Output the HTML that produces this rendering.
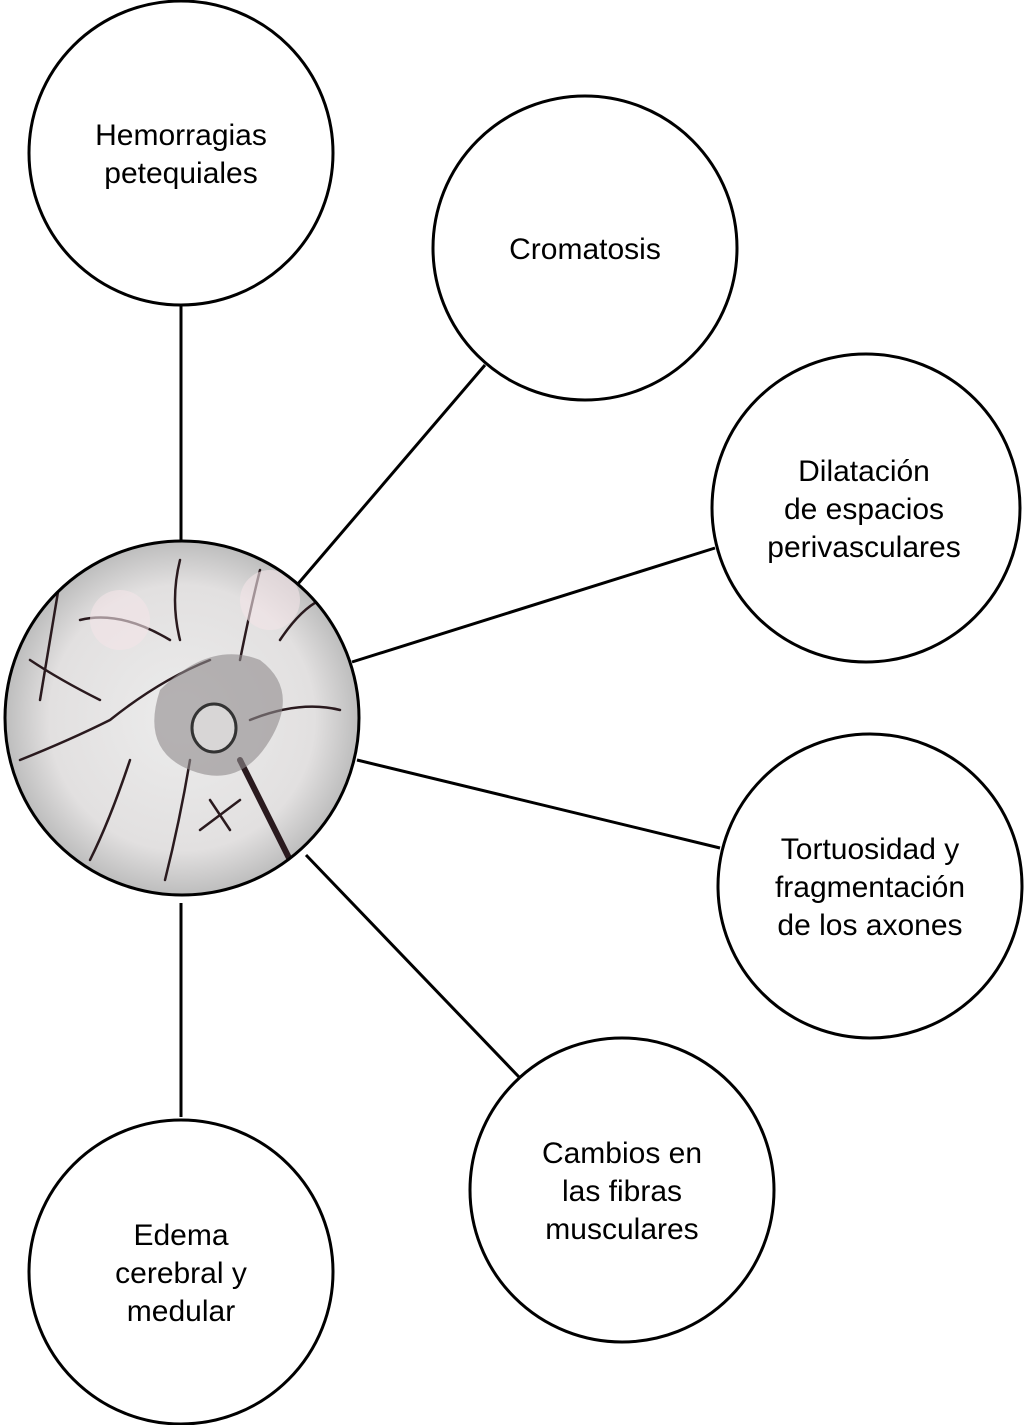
<!DOCTYPE html>
<html><head><meta charset="utf-8"><style>
html,body{margin:0;padding:0;background:#fff;}
svg{display:block}
text{font-family:"Liberation Sans",Helvetica,Arial,sans-serif;font-size:30px;fill:#000;text-anchor:middle}
</style></head><body>
<svg width="1024" height="1425" viewBox="0 0 1024 1425" xmlns="http://www.w3.org/2000/svg">
<defs>
<radialGradient id="g" cx="50%" cy="50%" r="50%">
<stop offset="0" stop-color="#ececec"/><stop offset="0.75" stop-color="#e2e0e0"/><stop offset="1" stop-color="#bdbdbd"/>
</radialGradient>
<clipPath id="c"><circle cx="182" cy="718" r="177"/></clipPath>
</defs>
<g stroke="#000" stroke-width="3" fill="none">
<line x1="181" y1="306" x2="181" y2="545"/>
<line x1="485" y1="365" x2="297" y2="585"/>
<line x1="715" y1="548" x2="352" y2="662"/>
<line x1="720" y1="848" x2="357" y2="760"/>
<line x1="519" y1="1077" x2="306" y2="855"/>
<line x1="181" y1="1117" x2="181" y2="903"/>
</g>
<circle cx="182" cy="718" r="177" fill="url(#g)"/>
<g clip-path="url(#c)" fill="none" stroke="#2a1a1e" stroke-width="2.5" stroke-linecap="round">
<path d="M210 660 Q160 680 110 720 Q70 740 20 760" />
<path d="M240 660 Q250 610 260 570"/>
<path d="M250 720 Q300 700 340 710"/>
<path d="M240 760 Q270 820 300 880" stroke-width="6"/>
<path d="M190 760 Q180 820 165 880"/>
<path d="M180 640 Q170 600 180 560"/>
<path d="M170 640 Q120 610 80 620"/>
<path d="M100 700 Q60 680 30 660"/>
<path d="M130 760 Q110 820 90 860"/>
<path d="M280 640 Q300 610 320 600"/>
<path d="M60 580 Q50 640 40 700"/>
<path d="M210 800 L230 830 M220 815 L200 830 M220 815 L240 800"/>
</g>
<g clip-path="url(#c)">
<path d="M160 690 Q210 640 260 660 Q300 690 270 740 Q240 790 190 770 Q140 750 160 690Z" fill="#8f8b8c" opacity="0.6"/>
<ellipse cx="214" cy="728" rx="22" ry="24" fill="#d8d6d6" stroke="#333" stroke-width="3"/>
<circle cx="120" cy="620" r="30" fill="#f4e4e8" opacity="0.6"/>
<circle cx="270" cy="600" r="30" fill="#f4e4e8" opacity="0.6"/>
</g>
<g fill="none" stroke="#000" stroke-width="3">
<circle cx="182" cy="718" r="177"/>
<circle cx="181" cy="153" r="152"/>
<circle cx="585" cy="248" r="152"/>
<circle cx="866" cy="508" r="154"/>
<circle cx="870" cy="886" r="152"/>
<circle cx="622" cy="1190" r="152"/>
<circle cx="181" cy="1272" r="152"/>
</g>
<text x="181" y="145">Hemorragias</text>
<text x="181" y="183">petequiales</text>
<text x="585" y="259">Cromatosis</text>
<text x="864" y="481">Dilatación</text>
<text x="864" y="519">de espacios</text>
<text x="864" y="557">perivasculares</text>
<text x="870" y="859">Tortuosidad y</text>
<text x="870" y="897">fragmentación</text>
<text x="870" y="935">de los axones</text>
<text x="622" y="1163">Cambios en</text>
<text x="622" y="1201">las fibras</text>
<text x="622" y="1239">musculares</text>
<text x="181" y="1245">Edema</text>
<text x="181" y="1283">cerebral y</text>
<text x="181" y="1321">medular</text>
</svg>
</body></html>
